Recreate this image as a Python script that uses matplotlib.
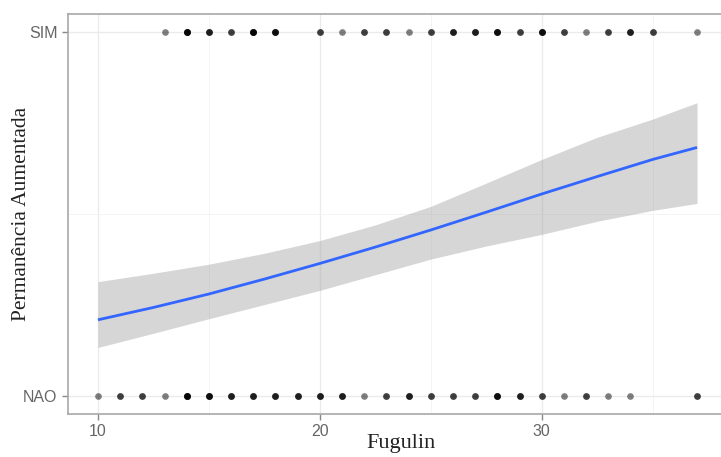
import numpy as np
import matplotlib
matplotlib.use("Agg")
import matplotlib.pyplot as plt

# ---- data ----
sim_x = [13, 14, 15, 16, 17, 18, 20, 21, 22, 23, 24, 25, 26, 27, 28, 29, 30, 31, 32, 33, 34, 35, 37]
sim_n = [1, 5, 3, 2, 5, 4, 2, 1, 2, 2, 1, 2, 3, 3, 4, 2, 4, 2, 1, 2, 3, 2, 1]

nao_x = [10, 11, 12, 13, 14, 15, 16, 17, 18, 19, 20, 21, 22, 23, 24, 25, 26, 27, 28, 29, 30, 31, 32, 33, 34, 37]
nao_n = [1, 2, 2, 1, 5, 4, 3, 3, 3, 3, 3, 3, 1, 2, 3, 2, 2, 2, 4, 3, 2, 1, 2, 1, 1, 2]

# fitted probability curve and its confidence band
curve_x = [10, 12.5, 15, 17.5, 20, 22.5, 25, 27.5, 30, 32.5, 35, 37]
curve_fit = [0.209, 0.243, 0.280, 0.321, 0.364, 0.409, 0.456, 0.505, 0.555, 0.603, 0.650, 0.683]
curve_lo = [0.133, 0.172, 0.212, 0.251, 0.290, 0.333, 0.376, 0.412, 0.444, 0.480, 0.510, 0.529]
curve_hi = [0.314, 0.337, 0.362, 0.392, 0.427, 0.470, 0.521, 0.585, 0.650, 0.711, 0.761, 0.806]

y_labels = ["NAO", "SIM"]
x_ticks = [10, 20, 30]

# ---- figure ----
fig = plt.figure(figsize=(7.21, 4.57), dpi=100)
ax = fig.add_axes([68 / 721, 1 - 414 / 457, (727 - 68) / 721, 400 / 457])

ax.fill_between(curve_x, curve_lo, curve_hi, color="#999999", alpha=0.4, lw=0, zorder=2)
ax.plot(curve_x, curve_fit, color="#3366FF", lw=2.0, zorder=3, solid_capstyle="butt",
        solid_joinstyle="round")

sx = np.repeat(sim_x, sim_n)
nx = np.repeat(nao_x, nao_n)
ax.plot(sx, np.ones_like(sx, dtype=float), "o", color="black", alpha=0.5, ms=4.8, mec="none", zorder=4)
ax.plot(nx, np.zeros_like(nx, dtype=float), "o", color="black", alpha=0.5, ms=4.8, mec="none", zorder=4)

ax.set_xlim(8.65, 38.35)
ax.set_ylim(-0.05, 1.05)
ax.set_xticks(x_ticks)
ax.set_xticks([15, 25, 35], minor=True)
ax.set_yticks([0, 1])
ax.set_yticklabels(y_labels)
ax.set_yticks([0.5], minor=True)

ax.grid(True, which="major", color="#ebebeb", lw=1.0, zorder=0)
ax.grid(True, which="minor", color="#f3f3f3", lw=0.6, zorder=0)
ax.set_axisbelow(True)

for s in ax.spines.values():
    s.set_color("#a8a8a8")
    s.set_linewidth(1.2)

ax.tick_params(axis="both", which="major", length=4, width=1, color="#888888",
               labelcolor="#666666", labelsize=11.5)
ax.tick_params(axis="both", which="minor", length=0)
for lab in ax.get_xticklabels() + ax.get_yticklabels():
    lab.set_family(["Liberation Sans", "DejaVu Sans"])

ax.set_xlabel("Fugulin", family=["Liberation Serif", "DejaVu Serif"], fontsize=16,
              color="#222222")
ax.xaxis.set_label_coords((401 - 68) / 659, (414 - 434) / 400)
ax.set_ylabel("Permanência Aumentada", family=["Liberation Serif", "DejaVu Serif"], fontsize=15.5,
              color="#222222")
ax.yaxis.set_label_coords((31 - 68) / 659, 0.5)

fig.savefig("out.png", dpi=100)
